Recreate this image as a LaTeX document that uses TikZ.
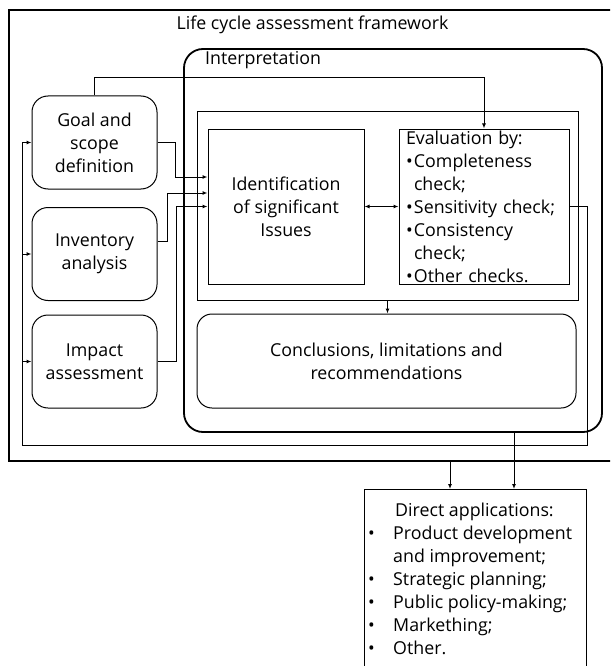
\documentclass[tikz,border=0pt]{standalone}
\usepackage{fontspec}
\setmainfont{Open Sans}
\usetikzlibrary{arrows.meta,calc}

\newcommand{\bul}{\makebox[8pt][l]{\textbullet}}
\newcommand{\dbul}{\makebox[27pt][l]{\hspace{2pt}\textbullet}}

\begin{document}
\begin{tikzpicture}[x=1pt,y=-1pt,
    txt/.style={font=\fontsize{17.8}{23}\selectfont},
    box/.style={draw,line width=1pt,inner sep=0pt,txt,align=center},
    rbox/.style={box,rounded corners=16pt,minimum width=125pt,minimum height=93pt},
    arr/.style={line width=1pt,-{Latex[length=5pt,width=4pt]}}]
    \useasboundingbox (0,0) rectangle (610,666);
    \clip (0,0) rectangle (610,666);

    % outer frame and interpretation block
    \node[draw,line width=1.8pt,inner sep=0pt,minimum width=620pt,minimum height=451pt] (frame) at (319,235.5) {};
    \node[txt] (title) at (312.5,25) {Life cycle assessment framework};
    \node[draw,line width=1.8pt,rounded corners=19pt,inner sep=0pt,minimum width=418pt,minimum height=383pt] (interp) at (393,240.5) {};
    \node[txt,anchor=west,inner sep=0pt] (interplabel) at (205,60) {Interpretation};

    % phases
    \node[rbox] (goal) at (94.5,142.5) {Goal and\\scope\\definition};
    \node[rbox] (inv) at (94.5,254) {Inventory\\analysis};
    \node[rbox] (impact) at (94.5,361.5) {Impact\\assessment};

    \node[box,minimum width=381pt,minimum height=188pt] (inner) at (387.5,206) {};
    \node[box,minimum width=156pt,minimum height=155pt] (ident) at (286,206.5) {Identification\\of significant\\Issues};
    \node[box,align=left,text width=156pt,minimum width=170pt,minimum height=155pt] (eval) at (484,206.5)
        {Evaluation by:\\ \bul Completeness\\ \hspace*{8pt}check;\\ \bul Sensitivity check;\\ \bul Consistency\\ \hspace*{8pt}check;\\ \bul Other checks.};
    \node[box,rounded corners=15pt,minimum width=379pt,minimum height=94pt] (concl) at (386.5,361) {Conclusions, limitations and\\recommendations};

    % applications
    \node[box,minimum width=222pt,minimum height=200pt,anchor=north] (direct) at (475,489) {};
    \node[txt,align=left,anchor=west,inner sep=0pt] (directtxt) at (366,579)
        {\hspace*{29pt}Direct applications:\\ \dbul Product development\\ \hspace*{27pt}and improvement;\\
         \dbul Strategic planning;\\ \dbul Public policy-making;\\ \dbul Markething;\\ \dbul Other.};

    % connectors
    \draw[arr] (goal.north) -- ++(0,-18) -| (eval.north);
    \draw[arr] (goal.east) -- ++(18,0) |- ($(ident.west)+(0,-29.5)$);
    \draw[arr] ($(inv.east)+(0,-13)$) -- ++(10,0) |- ($(ident.west)+(0,-13.5)$);
    \draw[arr] (impact.east) -- ++(19,0) |- (ident.west);
    \draw[line width=1pt,{Latex[length=5pt,width=4pt]}-{Latex[length=5pt,width=4pt]}] (ident.east) -- (eval.west);
    \draw[arr] (inner.south) -- (inner.south |- concl.north);

    \coordinate (fb) at (22,445);
    \draw[arr] (eval.east) -- ++(18,0) |- (fb) |- (goal.west);
    \draw[arr] (fb |- inv.west) -- (inv.west);
    \draw[arr] (fb |- impact.west) -- (impact.west);

    \draw[arr] ([xshift=39pt]direct.north |- interp.south) -- ([xshift=39pt]direct.north);
    \draw[arr] ([xshift=-25pt]direct.north |- frame.south) -- ([xshift=-25pt]direct.north);
\end{tikzpicture}
\end{document}
